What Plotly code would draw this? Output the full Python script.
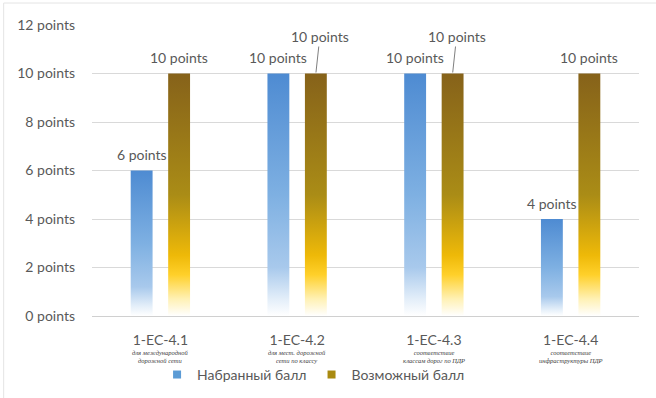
import plotly.graph_objects as go

# Scores per criterion
categories = ["1-EC-4.1", "1-EC-4.2", "1-EC-4.3", "1-EC-4.4"]
subtitles = [
    "для международной<br>дорожной сети",
    "для мест. дорожной<br>сети по классу",
    "соответствие<br>классам дорог по ПДР",
    "соответствие<br>инфраструктуры ПДР",
]
scored = [6, 10, 10, 4]       # Набранный балл
possible = [10, 10, 10, 10]   # Возможный балл
series_names = ["Набранный балл", "Возможный балл"]
y_ticks = [0, 2, 4, 6, 8, 10, 12]

TEXT = "#595959"
FONT = "Lato"
BAR_W = 0.16
OFFSET = 0.137

blue_scale = [[0, "#ffffff"], [0.07, "#e3eef9"], [0.2, "#a8c9ec"],
              [0.5, "#7eb0e2"], [1, "#4e8bd2"]]
gold_scale = [[0, "#ffffff"], [0.07, "#fff1b5"], [0.17, "#ffd02a"],
              [0.25, "#eeb908"], [0.5, "#aa8c16"], [1, "#86621a"]]
legend_colors = ["#5b9bd5", "#a98a10"]

fig = go.Figure()


def add_bars(values, shift, scale, group):
    for i, v in enumerate(values):
        x0, x1 = i + shift - BAR_W / 2, i + shift + BAR_W / 2
        fig.add_trace(go.Scatter(
            x=[x0, x0, x1, x1, x0], y=[0, v, v, 0, 0],
            mode="lines", line=dict(width=0), fill="toself",
            fillgradient=dict(type="vertical", colorscale=scale, start=0, stop=v),
            showlegend=False, legendgroup=group, hoverinfo="skip",
        ))


add_bars(scored, -OFFSET, blue_scale, "s")
add_bars(possible, OFFSET, gold_scale, "p")

# Legend entries
for name, col, grp in zip(series_names, legend_colors, ["s", "p"]):
    fig.add_trace(go.Scatter(
        x=[None], y=[None], mode="markers", name=name, legendgroup=grp,
        marker=dict(symbol="square", size=8, color=col),
    ))

annotations = []
# Value labels
for i, v in enumerate(scored):
    annotations.append(dict(
        x=i - OFFSET, y=v, text=f"{v} points", showarrow=False,
        yshift=16, font=dict(family=FONT, size=14, color=TEXT)))
for i, v in enumerate(possible):
    if i in (1, 2):
        annotations.append(dict(
            x=i + OFFSET, y=v, text=f"{v} points", showarrow=True,
            arrowhead=0, arrowwidth=1, arrowcolor="#7f7f7f",
            ax=4, ay=-37, standoff=1,
            font=dict(family=FONT, size=14, color=TEXT)))
    else:
        annotations.append(dict(
            x=i + OFFSET, y=v, text=f"{v} points", showarrow=False,
            yshift=16, font=dict(family=FONT, size=14, color=TEXT)))

# Small descriptions under each criterion code
for i, s in enumerate(subtitles):
    annotations.append(dict(
        x=i, y=-0.173, xref="x", yref="paper", text=f"<i>{s}</i>",
        showarrow=False, align="center",
        font=dict(family="Liberation Serif", size=6.5, color="#404040")))

fig.update_layout(
    width=656, height=398,
    margin=dict(l=91.5, r=16.5, t=25, b=82, autoexpand=False),
    paper_bgcolor="white", plot_bgcolor="white",
    font=dict(family=FONT, size=14, color=TEXT),
    xaxis=dict(
        range=[-0.5, 3.5], tickvals=list(range(len(categories))),
        ticktext=categories, showgrid=False, zeroline=False,
        showline=False, ticks="", ticklabelstandoff=14,
        tickfont=dict(family=FONT, size=14, color=TEXT),
    ),
    yaxis=dict(
        range=[0, 12], tickvals=y_ticks,
        ticktext=[f"{t} points" for t in y_ticks],
        showgrid=True, gridcolor="#d9d9d9", gridwidth=1,
        zeroline=True, zerolinecolor="#d0d0d0", zerolinewidth=1,
        ticks="", ticklabelstandoff=16,
        tickfont=dict(family=FONT, size=14, color=TEXT),
    ),
    legend=dict(
        orientation="h", xref="container", yref="container",
        x=0.478, xanchor="center", y=0.058, yanchor="middle",
        font=dict(family=FONT, size=14, color=TEXT),
        itemwidth=30, tracegroupgap=0,
    ),
    annotations=annotations,
    shapes=[dict(type="rect", xref="paper", yref="paper",
                 x0=-0.1615, x1=1.2, y0=-0.4, y1=1.0756,
                 line=dict(color="#e4e4e4", width=1), layer="below")],
)

fig.write_html("out.html")
